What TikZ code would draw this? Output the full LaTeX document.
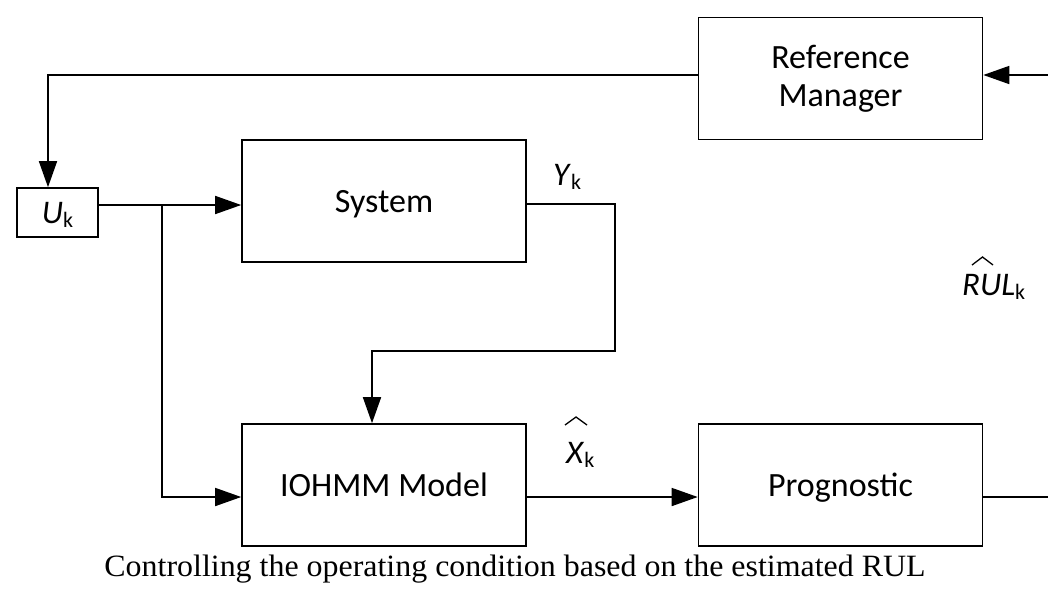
\documentclass[tikz,border=0pt]{standalone}
\usepackage{fontspec}
\usepackage{graphicx}
\setmainfont{Carlito}
\newfontfamily\capfont{Liberation Serif}
\usetikzlibrary{arrows.meta,positioning}
\newcommand{\subk}{\raisebox{-4pt}{\fontsize{22}{22}\selectfont k}}
\begin{document}
\begin{tikzpicture}[x=1pt,y=-1pt,
  blk/.style={draw,line width=1.6pt,minimum width=284pt,minimum height=122pt,inner sep=0pt,font=\fontsize{34}{38}\selectfont,align=center},
  one/.style={text height=22pt,text depth=0pt},
  wire/.style={line width=1.6pt},
  arr/.style={wire,-{Triangle[length=26pt,width=18pt]}},
  hatline/.style={line width=1.3pt},
  lbl/.style={font=\fontsize{33}{38}\selectfont,inner sep=0pt,anchor=base west}]
\useasboundingbox (0,0) rectangle (1048,598);
\node[blk] (rm) at (840.5,78.5) {Reference\\Manager};
\node[blk,one] (sys) at (384,201) {System};
\node[blk,one] (io) at (384,485) {IOHMM Model};
\node[blk,one] (pr) at (840.5,485) {Prognostic};
\node[draw,line width=1.6pt,minimum width=81pt,minimum height=49pt,inner sep=0pt,font=\fontsize{33}{38}\selectfont,text height=22pt,text depth=0pt] (u) at (57.5,212.5) {\textit{U}\subk};
\coordinate (ytop) at (0,75);
\coordinate (yu) at (0,205);
\coordinate (yy) at (0,204);
\coordinate (ylow) at (0,497);
\coordinate (xbr) at (162,0);
\coordinate (xy) at (615,0);
\coordinate (ymid) at (0,351);
\coordinate (xdn) at (372,0);
\coordinate (xr) at (1048,0);
\coordinate (uin) at (48,0);
% top feedback into U
\draw[arr] (rm.west |- ytop) -| (uin |- u.north);
% right input into reference manager
\draw[arr] (xr |- ytop) -- (rm.east |- ytop);
% U to system
\draw[arr] (u.east |- yu) -- (sys.west |- yu);
% branch to IOHMM
\draw[arr] (xbr |- yu) -- (xbr |- ylow) -- (io.west |- ylow);
% system output to IOHMM
\draw[arr] (sys.east |- yy) -| (xy |- ymid) -| (xdn |- io.north);
% IOHMM to prognostic
\draw[arr] (io.east |- ylow) -- (pr.west |- ylow);
% prognostic out to right
\draw[wire] (pr.east |- ylow) -- (xr |- ylow);
% labels
\node[lbl] (ylab) at (553,185) {\textit{Y}\subk};
\node[lbl] (xlab) at (566,463) {\textit{X}\subk};
\draw[hatline] ([shift={(-1,-38)}]xlab.base west) -- ([shift={(10,-46)}]xlab.base west) -- ([shift={(21,-38)}]xlab.base west);
\node[lbl] (rlab) at (962,295) {\textit{RUL}\subk};
\draw[hatline] ([shift={(10,-30)}]rlab.base west) -- ([shift={(20.5,-38)}]rlab.base west) -- ([shift={(31,-30)}]rlab.base west);
\node[font=\capfont\fontsize{31}{35}\selectfont,inner sep=0pt,anchor=base] (cap) at (515,576) {\scalebox{1.03}[1]{Controlling the operating condition based on the estimated RUL}};
\end{tikzpicture}
\end{document}
